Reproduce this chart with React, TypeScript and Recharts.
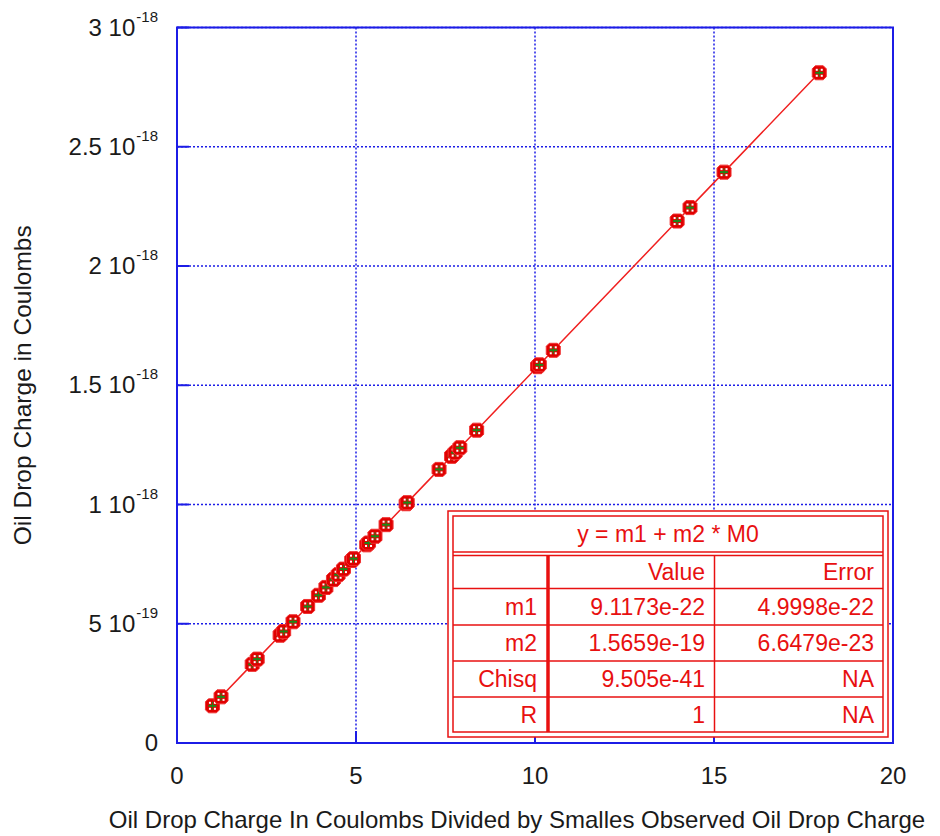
import React from 'react';
import {
  ScatterChart,
  Scatter,
  XAxis,
  YAxis,
  CartesianGrid,
  ReferenceArea,
} from 'recharts';

// Charge ratio (x) and measured charge in Coulombs (y)
const chargeRatio = [
  0.99, 1.23, 2.1, 2.24, 2.88, 2.98, 3.24, 3.65, 3.95, 4.16, 4.37, 4.5, 4.65,
  4.88, 4.93, 5.3, 5.35, 5.53, 5.84, 6.4, 6.43, 7.32, 7.67, 7.77, 7.9, 8.37,
  10.07, 10.12, 10.51, 13.97, 14.33, 15.28, 17.94,
];
const chargeCoulombs = [
  1.559e-19, 1.935e-19, 3.297e-19, 3.517e-19, 4.519e-19, 4.675e-19, 5.083e-19,
  5.725e-19, 6.194e-19, 6.523e-19, 6.852e-19, 7.056e-19, 7.291e-19, 7.651e-19,
  7.729e-19, 8.308e-19, 8.387e-19, 8.669e-19, 9.154e-19, 1.0031e-18,
  1.0078e-18, 1.1472e-18, 1.2019e-18, 1.2176e-18, 1.238e-18, 1.3116e-18,
  1.5778e-18, 1.5856e-18, 1.6466e-18, 2.1885e-18, 2.2448e-18, 2.3936e-18,
  2.8101e-18,
];

const xTicks = [0, 5, 10, 15, 20];
const yTicks = [0, 5e-19, 1e-18, 1.5e-18, 2e-18, 2.5e-18, 3e-18];
const yTickMantissa = ['0', '5 10', '1 10', '1.5 10', '2 10', '2.5 10', '3 10'];
const yTickExponent = ['', '-19', '-18', '-18', '-18', '-18', '-18'];

// fit results table
const fitEquation = 'y = m1 + m2 * M0';
const fitHeaders = ['', 'Value', 'Error'];
const fitNames = ['m1', 'm2', 'Chisq', 'R'];
const fitValues = ['9.1173e-22', '1.5659e-19', '9.505e-41', '1'];
const fitErrors = ['4.9998e-22', '6.6479e-23', 'NA', 'NA'];

const data = chargeRatio.map((x, i) => ({ x, y: chargeCoulombs[i] }));

const FONT = '"Liberation Sans", Arial, sans-serif';
const BLUE = '#1c1ce6';
const RED = '#e81010';
const TEXT = '#1a1a1a';

const DropMarker = (props: any) => {
  const { cx, cy } = props;
  if (cx == null || cy == null) return null;
  const r = 7;
  const c = 3;
  const pts = [
    [-r + c, -r], [r - c, -r], [r, -r + c], [r, r - c],
    [r - c, r], [-r + c, r], [-r, r - c], [-r, -r + c],
  ]
    .map(([a, b]) => `${cx + a},${cy + b}`)
    .join(' ');
  return (
    <g>
      <polygon points={pts} fill="#e00000" stroke="#f03030" strokeWidth={1} />
      <rect x={cx - 3.5} y={cy - 4} width={2} height={2} fill="#fff" />
      <rect x={cx + 1.5} y={cy - 4} width={2} height={2} fill="#fff" />
      <rect x={cx - 3.5} y={cy + 2} width={2} height={2} fill="#fff" />
      <rect x={cx + 1.5} y={cy + 2} width={2} height={2} fill="#fff" />
      <rect x={cx - 4} y={cy - 1} width={8} height={2} fill="#1a8a1a" />
      <rect x={cx - 0.5} y={cy - 4} width={1} height={8} fill="#1a8a1a" />
    </g>
  );
};

const BottomTick = (props: any) => {
  const { x, y, payload } = props;
  return (
    <g>
      <line x1={x} y1={y} x2={x} y2={y - 12} stroke={BLUE} strokeWidth={2} />
      <text x={x} y={y + 41} textAnchor="middle" fontFamily={FONT} fontSize={24} fill={TEXT}>
        {payload.value}
      </text>
    </g>
  );
};

const TopTick = (props: any) => {
  const { x, y } = props;
  return <line x1={x} y1={y} x2={x} y2={y + 12} stroke={BLUE} strokeWidth={2} />;
};

const LeftTick = (props: any) => {
  const { x, y, index } = props;
  const exp = yTickExponent[index];
  return (
    <g>
      <line x1={x} y1={y} x2={x + 12} y2={y} stroke={BLUE} strokeWidth={2} />
      <text x={x - 19} y={y + 8} textAnchor="end" fontFamily={FONT} fontSize={24} fill={TEXT}>
        <tspan>{yTickMantissa[index]}</tspan>
        {exp && (
          <tspan dx={1} dy={-14} fontSize={15}>
            {exp}
          </tspan>
        )}
      </text>
    </g>
  );
};

const RightTick = (props: any) => {
  const { x, y } = props;
  return <line x1={x} y1={y} x2={x - 12} y2={y} stroke={BLUE} strokeWidth={2} />;
};

const FitTable = () => {
  const rowCenters = [572, 607, 643, 679, 714.5];
  const rowLines = [588.5, 625, 661, 697];
  const tx = { fontFamily: FONT, fontSize: 23, fill: RED };
  return (
    <svg
      width={940}
      height={836}
      style={{ position: 'absolute', left: -8, top: -8, pointerEvents: 'none' }}
    >
      <rect x={448} y={511} width={440} height={226} fill="#fff" stroke={RED} strokeWidth={1.5} />
      <rect x={453} y={516} width={430} height={216} fill="none" stroke={RED} strokeWidth={1.5} />
      <line x1={453} y1={552} x2={883} y2={552} stroke={RED} strokeWidth={1.5} />
      <line x1={453} y1={555.5} x2={883} y2={555.5} stroke={RED} strokeWidth={1.5} />
      {rowLines.map((ly) => (
        <line key={ly} x1={453} y1={ly} x2={883} y2={ly} stroke={RED} strokeWidth={1.5} />
      ))}
      <line x1={548} y1={555.5} x2={548} y2={732} stroke={RED} strokeWidth={3.5} />
      <line x1={714.5} y1={555.5} x2={714.5} y2={732} stroke={RED} strokeWidth={1.5} />
      <text x={668} y={542} textAnchor="middle" {...tx}>
        {fitEquation}
      </text>
      <text x={705} y={rowCenters[0] + 8} textAnchor="end" {...tx}>
        {fitHeaders[1]}
      </text>
      <text x={874} y={rowCenters[0] + 8} textAnchor="end" {...tx}>
        {fitHeaders[2]}
      </text>
      {fitNames.map((n, i) => (
        <g key={n}>
          <text x={537} y={rowCenters[i + 1] + 8} textAnchor="end" {...tx}>
            {n}
          </text>
          <text x={705} y={rowCenters[i + 1] + 8} textAnchor="end" {...tx}>
            {fitValues[i]}
          </text>
          <text x={874} y={rowCenters[i + 1] + 8} textAnchor="end" {...tx}>
            {fitErrors[i]}
          </text>
        </g>
      ))}
    </svg>
  );
};

export default function App() {
  return (
    <div style={{ position: 'relative', width: 932, height: 828 }}>
      <ScatterChart
        width={932}
        height={828}
        margin={{ top: 18.5, right: 46, bottom: 8, left: 19 }}
      >
        <CartesianGrid
          xAxisId="b"
          yAxisId="l"
          stroke={BLUE}
          strokeWidth={1.5}
          strokeDasharray="2 2"
        />
        <XAxis
          xAxisId="b"
          dataKey="x"
          type="number"
          domain={[0, 20]}
          ticks={xTicks}
          height={85}
          axisLine={false}
          tickLine={false}
          tickSize={0}
          tickMargin={0}
          tick={<BottomTick />}
          interval={0}
          label={{
            value: 'Oil Drop Charge In Coulombs Divided by Smalles Observed Oil Drop Charge',
            position: 'insideBottom',
            offset: 0,
            dx: -18,
            fontFamily: FONT,
            fontSize: 24,
            fill: TEXT,
          }}
        />
        <XAxis
          xAxisId="t"
          orientation="top"
          type="number"
          domain={[0, 20]}
          ticks={xTicks}
          height={1}
          axisLine={false}
          tickLine={false}
          tickSize={0}
          tickMargin={0}
          tick={<TopTick />}
          interval={0}
        />
        <YAxis
          yAxisId="l"
          dataKey="y"
          type="number"
          domain={[0, 3e-18]}
          ticks={yTicks}
          width={150}
          axisLine={false}
          tickLine={false}
          tickSize={0}
          tickMargin={0}
          tick={<LeftTick />}
          interval={0}
          label={{
            value: 'Oil Drop Charge in Coulombs',
            angle: -90,
            position: 'center',
            dx: -80,
            fontFamily: FONT,
            fontSize: 24.5,
            fill: TEXT,
          }}
        />
        <YAxis
          yAxisId="r"
          orientation="right"
          type="number"
          domain={[0, 3e-18]}
          ticks={yTicks}
          width={1}
          axisLine={false}
          tickLine={false}
          tickSize={0}
          tickMargin={0}
          tick={<RightTick />}
          interval={0}
        />
        <ReferenceArea
          xAxisId="b"
          yAxisId="l"
          x1={0}
          x2={20}
          y1={0}
          y2={3e-18}
          fill="none"
          fillOpacity={0}
          stroke={BLUE}
          strokeWidth={2}
          ifOverflow="visible"
        />
        <Scatter
          xAxisId="b"
          yAxisId="l"
          data={data}
          line={{ stroke: '#f02020', strokeWidth: 1.5 }}
          shape={<DropMarker />}
          isAnimationActive={false}
        />
      </ScatterChart>
      <FitTable />
    </div>
  );
}
